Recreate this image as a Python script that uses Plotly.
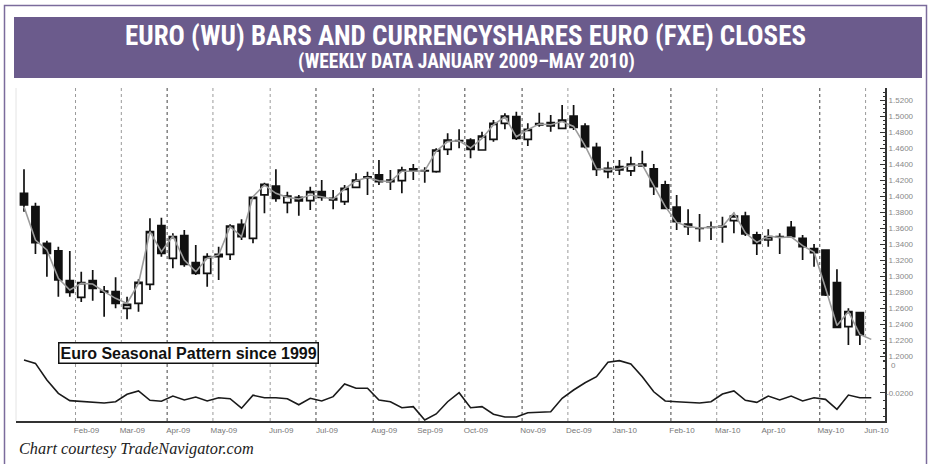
import numpy as np
import pandas as pd
import plotly.graph_objects as go

# ---------------- data (weekly, Friday-dated) ----------------
week_dates = pd.date_range("2009-01-02", periods=75, freq="W-FRI")

opens = [1.4034, 1.3866, 1.3409, 1.3313, 1.2942, 1.2733, 1.2942, 1.2812, 1.2804, 1.2596,
         1.2659, 1.2896, 1.3629, 1.3221, 1.3504, 1.3166, 1.3034, 1.3241, 1.3271, 1.3646,
         1.3471, 1.4013, 1.4125, 1.3916, 1.3984, 1.3941, 1.4054, 1.3971, 1.3929, 1.4109,
         1.4225, 1.4263, 1.4200, 1.4191, 1.4338, 1.4313, 1.4304, 1.4584, 1.4692, 1.4700,
         1.4575, 1.4709, 1.4908, 1.4992, 1.4709, 1.4890, 1.4917, 1.4846, 1.5000, 1.4875,
         1.4609, 1.4304, 1.4367, 1.4313, 1.4400, 1.4338, 1.4138, 1.3860, 1.3650, 1.3596,
         1.3608, 1.3615, 1.3692, 1.3750, 1.3513, 1.3450, 1.3492, 1.3608, 1.3471, 1.3342,
         1.3325, 1.2917, 1.2366, 1.2542]
highs = [1.4334, 1.3916, 1.3442, 1.3367, 1.3313, 1.3054, 1.3075, 1.2875, 1.2984, 1.2741,
         1.2959, 1.3721, 1.3729, 1.3534, 1.3575, 1.3388, 1.3284, 1.3366, 1.3646, 1.3709,
         1.4000, 1.4166, 1.4334, 1.4054, 1.4013, 1.4116, 1.4200, 1.4075, 1.4138, 1.4283,
         1.4304, 1.4450, 1.4325, 1.4367, 1.4400, 1.4358, 1.4596, 1.4783, 1.4834, 1.4721,
         1.4804, 1.4950, 1.5033, 1.5054, 1.4908, 1.5042, 1.5013, 1.5138, 1.5138, 1.4908,
         1.4667, 1.4429, 1.4450, 1.4492, 1.4567, 1.4400, 1.4192, 1.4013, 1.3833, 1.3775,
         1.3680, 1.3742, 1.3792, 1.3804, 1.3554, 1.3583, 1.3533, 1.3688, 1.3513, 1.3400,
         1.3333, 1.3083, 1.2596, 1.2554]
lows = [1.3804, 1.3275, 1.2991, 1.2741, 1.2741, 1.2675, 1.2691, 1.2492, 1.2596, 1.2460,
        1.2554, 1.2825, 1.3242, 1.3096, 1.3116, 1.3013, 1.2866, 1.2950, 1.3200, 1.3450,
        1.3409, 1.3784, 1.3929, 1.3784, 1.3754, 1.3825, 1.3941, 1.3833, 1.3888, 1.4096,
        1.4013, 1.4138, 1.4075, 1.4033, 1.4200, 1.4167, 1.4292, 1.4513, 1.4596, 1.4471,
        1.4567, 1.4679, 1.4834, 1.4700, 1.4625, 1.4867, 1.4804, 1.4834, 1.4825, 1.4596,
        1.4250, 1.4221, 1.4263, 1.4250, 1.4367, 1.4013, 1.3833, 1.3575, 1.3513, 1.3429,
        1.3450, 1.3417, 1.3533, 1.3500, 1.3263, 1.3367, 1.3275, 1.3483, 1.3200, 1.3117,
        1.2750, 1.2346, 1.2138, 1.2138]
closes = [1.3888, 1.3416, 1.3284, 1.2950, 1.2796, 1.2917, 1.2846, 1.2798, 1.2659, 1.2646,
          1.2921, 1.3554, 1.3284, 1.3492, 1.3146, 1.3034, 1.3241, 1.3271, 1.3625, 1.3491,
          1.3984, 1.4146, 1.3971, 1.4000, 1.3938, 1.4054, 1.3984, 1.3950, 1.4096, 1.4200,
          1.4238, 1.4179, 1.4178, 1.4325, 1.4313, 1.4317, 1.4575, 1.4700, 1.4688, 1.4584,
          1.4750, 1.4908, 1.5000, 1.4721, 1.4834, 1.4905, 1.4875, 1.4950, 1.4859, 1.4617,
          1.4334, 1.4346, 1.4325, 1.4400, 1.4375, 1.4117, 1.3846, 1.3679, 1.3617, 1.3602,
          1.3612, 1.3620, 1.3750, 1.3525, 1.3409, 1.3492, 1.3488, 1.3492, 1.3367, 1.3292,
          1.2763, 1.2358, 1.2554, 1.2263]

# CurrencyShares Euro (FXE) closes, plotted on the euro scale
fxe_closes = [1.3867, 1.3450, 1.3325, 1.2970, 1.2825, 1.2908, 1.2900, 1.2804, 1.2721, 1.2658,
              1.2908, 1.3554, 1.3304, 1.3500, 1.3200, 1.3054, 1.3221, 1.3263, 1.3617, 1.3492,
              1.3992, 1.4138, 1.4033, 1.3983, 1.3962, 1.4013, 1.3990, 1.3960, 1.4090, 1.4190,
              1.4230, 1.4190, 1.4180, 1.4310, 1.4310, 1.4315, 1.4560, 1.4680, 1.4690, 1.4600,
              1.4720, 1.4890, 1.4990, 1.4740, 1.4830, 1.4900, 1.4890, 1.4930, 1.4870, 1.4630,
              1.4340, 1.4330, 1.4340, 1.4380, 1.4390, 1.4120, 1.3870, 1.3670, 1.3620, 1.3600,
              1.3610, 1.3620, 1.3790, 1.3540, 1.3420, 1.3500, 1.3480, 1.3490, 1.3380, 1.3300,
              1.2850, 1.2380, 1.2554, 1.2270, 1.2208]

# Euro seasonal pattern since 1999 (lower panel)
seasonal = [0.0006, -0.0015, -0.0120, -0.0204, -0.0250, -0.0254, -0.0259, -0.0265, -0.0257, -0.0210,
            -0.0189, -0.0248, -0.0254, -0.0221, -0.0246, -0.0227, -0.0252, -0.0232, -0.0238, -0.0298,
            -0.0216, -0.0232, -0.0232, -0.0238, -0.0276, -0.0235, -0.0252, -0.0225, -0.0145, -0.0172,
            -0.0172, -0.0246, -0.0257, -0.0295, -0.0288, -0.0372, -0.0334, -0.0257, -0.0200, -0.0295,
            -0.0288, -0.0336, -0.0353, -0.0353, -0.0326, -0.0324, -0.0320, -0.0235, -0.0183, -0.0137,
            -0.0099, -0.0008, 0.0002, -0.0019, -0.0099, -0.0194, -0.0252, -0.0257, -0.0261, -0.0265,
            -0.0257, -0.0208, -0.0189, -0.0248, -0.0261, -0.0221, -0.0246, -0.0221, -0.0252, -0.0232,
            -0.0242, -0.0305, -0.0215, -0.0232, -0.0232]

price_ticks = [1.20, 1.22, 1.24, 1.26, 1.28, 1.30, 1.32, 1.34, 1.36, 1.38, 1.40,
               1.42, 1.44, 1.46, 1.48, 1.50, 1.52]
seasonal_ticks = [0.0, -0.02]
seasonal_tick_text = ["0", "-0.0200"]

title_text = "EURO (WU) BARS AND CURRENCYSHARES EURO (FXE) CLOSES"
subtitle_text = "(WEEKLY DATA JANUARY 2009\u2013MAY 2010)"
box_text = "Euro Seasonal Pattern since 1999"
credit_text = "Chart courtesy TradeNavigator.com"

# ---------------- derived positions ----------------
n_bars = len(closes)
bar_x = list(range(n_bars))
line_x = list(range(len(fxe_closes)))
seas_x = list(range(len(seasonal)))

month_bounds, month_labels = [], []
for i in range(1, len(week_dates)):
    if week_dates[i].month != week_dates[i - 1].month:
        month_bounds.append(i - 0.5)
        month_labels.append(week_dates[i].strftime("%b-%y"))

dark_months = {"Apr-09", "Jul-09", "Aug-09", "Oct-09", "Nov-09", "Jan-10", "Feb-10", "May-10"}

# ---------------- figure ----------------
W, H = 931, 464
ML, MR, MT, MB = 16, 46, 88, 43
PW, PH = W - ML - MR, H - MT - MB


def px_x(p):
    return (p - ML) / PW


def px_y(p):
    return (H - MB - p) / PH


fig = go.Figure()

fig.add_trace(go.Candlestick(
    x=bar_x, open=opens, high=highs, low=lows, close=closes,
    increasing=dict(line=dict(color="#111111", width=1.7), fillcolor="white"),
    decreasing=dict(line=dict(color="#111111", width=1.7), fillcolor="#111111"),
    hoverinfo="skip", showlegend=False,
))

fig.add_trace(go.Scatter(
    x=line_x, y=fxe_closes, mode="lines",
    line=dict(color="#9c9c9c", width=1.6), hoverinfo="skip", showlegend=False,
))

fig.add_trace(go.Scatter(
    x=seas_x, y=seasonal, mode="lines", yaxis="y2",
    line=dict(color="#1a1a1a", width=1.6), hoverinfo="skip", showlegend=False,
))

shapes = []
# outer frame
shapes.append(dict(type="rect", xref="paper", yref="paper",
                   x0=px_x(4.5), x1=px_x(926.5), y0=px_y(480), y1=px_y(5.5),
                   line=dict(color="#7b6b9c", width=1.5), fillcolor="rgba(0,0,0,0)", layer="below"))
# title band
shapes.append(dict(type="rect", xref="paper", yref="paper",
                   x0=px_x(14), x1=px_x(922), y0=px_y(78), y1=px_y(17),
                   line=dict(width=0), fillcolor="#6b5b8c", layer="below"))
# faint left edge
shapes.append(dict(type="line", xref="paper", yref="paper", x0=0, x1=0, y0=0, y1=1,
                   line=dict(color="#e4e4e4", width=1), layer="below"))
# month separators
for b, lab in zip(month_bounds, month_labels):
    shapes.append(dict(type="line", xref="x", yref="paper", x0=b, x1=b, y0=0, y1=1,
                       line=dict(color="#444444" if lab in dark_months else "#9a9a9a",
                                 width=1, dash="dot"), layer="below"))

TITLE_FONT = "Roboto Condensed, Liberation Sans Narrow, DejaVu Sans Condensed, Open Sans, sans-serif"
annotations = [
    dict(text=title_text, xref="paper", yref="paper", x=px_x(465), y=px_y(35.5),
         showarrow=False, xanchor="center", yanchor="middle",
         font=dict(family=TITLE_FONT, size=27, color="white", weight="bold")),
    dict(text=subtitle_text, xref="paper", yref="paper", x=px_x(466), y=px_y(61.5),
         showarrow=False, xanchor="center", yanchor="middle",
         font=dict(family=TITLE_FONT, size=19.5, color="white", weight="bold")),
    dict(text=box_text, xref="paper", yref="paper", x=px_x(188.5), y=px_y(353),
         showarrow=False, xanchor="center", yanchor="middle",
         bgcolor="white", bordercolor="#111111", borderwidth=1.5, borderpad=1,
         font=dict(family="Liberation Sans, Arial, sans-serif", size=16, color="#111111", weight="bold")),
    dict(text=credit_text, xref="paper", yref="paper", x=px_x(17), y=px_y(448),
         showarrow=False, xanchor="left", yanchor="middle",
         font=dict(family="Liberation Serif, Times New Roman, serif", size=16.3, color="#222222",
                   style="italic")),
    # seasonal zero label placed just below the 1.2000 price label
    dict(text=seasonal_tick_text[0], xref="paper", yref="y2", x=px_x(889), y=seasonal_ticks[0],
         yshift=-4, showarrow=False, xanchor="left", yanchor="middle",
         font=dict(family="Liberation Sans, Arial, sans-serif", size=8, color="#888888")),
]

minor_price = [round(v, 3) for v in np.arange(1.195, 1.531, 0.005)]
minor_seas = [round(v, 4) for v in np.arange(-0.035, 0.0051, 0.005)]

fig.update_layout(
    width=W, height=H,
    margin=dict(l=ML, r=MR, t=MT, b=MB, pad=0),
    paper_bgcolor="white", plot_bgcolor="white",
    showlegend=False,
    shapes=shapes, annotations=annotations,
    boxgap=0.12,
    xaxis=dict(range=[(ML - 24) / 11.45, (W - MR - 24) / 11.45],
               tickmode="array", tickvals=month_bounds, ticktext=month_labels,
               ticklabelshift=11, ticks="", showgrid=False, zeroline=False,
               showline=True, linecolor="#333333", linewidth=2,
               tickfont=dict(family="Liberation Sans, Arial, sans-serif", size=8, color="#777777"),
               rangeslider=dict(visible=False), fixedrange=True),
    yaxis=dict(side="right", range=[1.52 - (H - MB - 100) / 800, 1.52 + 12 / 800],
               tickmode="array", tickvals=price_ticks,
               ticktext=[f"{v:.4f}" for v in price_ticks],
               ticks="inside", ticklen=5, tickwidth=1, tickcolor="#333333",
               minor=dict(tickmode="array", tickvals=minor_price, ticks="inside", ticklen=2,
                          tickcolor="#333333"),
               showline=True, linecolor="#333333", linewidth=2,
               showgrid=False, zeroline=False, fixedrange=True,
               tickfont=dict(family="Liberation Sans, Arial, sans-serif", size=8, color="#888888")),
    yaxis2=dict(overlaying="y", side="right",
                range=[(361 - (H - MB)) / 1585, (361 - MT) / 1585],
                tickmode="array", tickvals=seasonal_ticks, ticktext=["", seasonal_tick_text[1]],
                ticks="inside", ticklen=5, tickwidth=1, tickcolor="#333333",
                minor=dict(tickmode="array", tickvals=minor_seas, ticks="inside", ticklen=2,
                           tickcolor="#333333"),
                showline=False, showgrid=False, zeroline=False, fixedrange=True,
                tickfont=dict(family="Liberation Sans, Arial, sans-serif", size=8, color="#888888")),
)

fig.write_html(
    "out.html",
    config={"displayModeBar": False, "staticPlot": True},
    post_script="document.body.style.margin='0px';document.body.style.overflow='hidden';",
)
